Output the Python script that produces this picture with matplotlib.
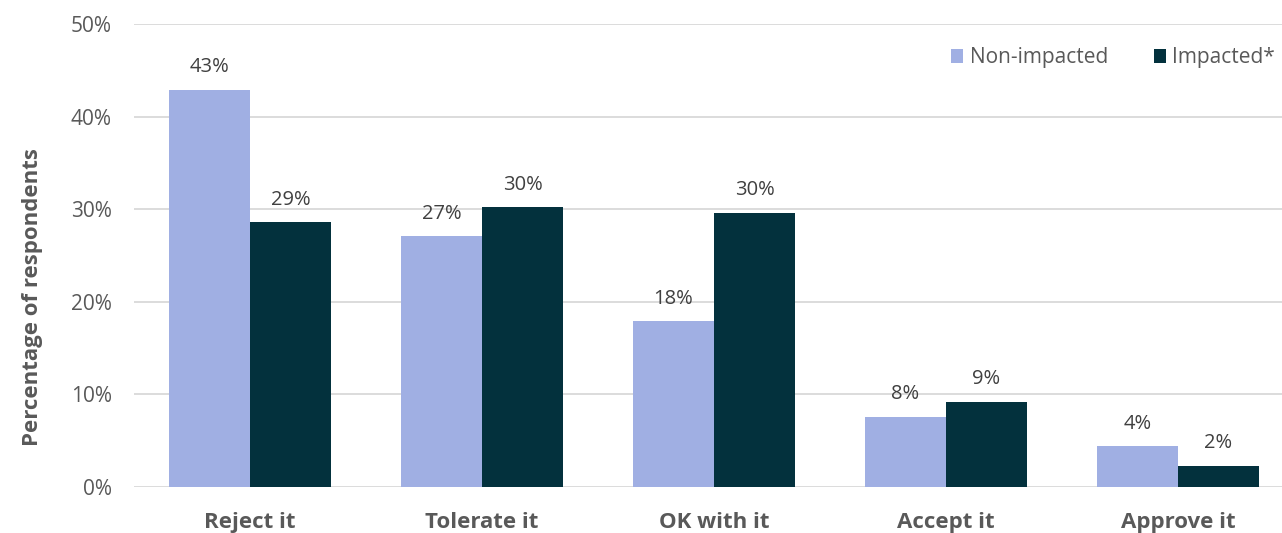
import matplotlib
matplotlib.use("Agg")
import matplotlib.pyplot as plt
import numpy as np
from matplotlib.ticker import FuncFormatter

categories = ["Reject it", "Tolerate it", "OK with it", "Accept it", "Approve it"]
non_impacted = [42.9, 27.1, 17.9, 7.6, 4.4]
impacted = [28.6, 30.2, 29.6, 9.2, 2.3]
series_names = ["Non-impacted", "Impacted*"]
y_ticks = [0, 10, 20, 30, 40, 50]

plt.rcParams["font.family"] = ["Open Sans", "DejaVu Sans"]

fig = plt.figure(figsize=(12.82, 5.33), dpi=100)
ax = fig.add_axes([0.1045, 0.0863, 0.9048, 0.8687])

x = np.arange(len(categories))
w = 0.35
light = "#A0AFE3"
dark = "#03313D"

b1 = ax.bar(x - w / 2, non_impacted, w, color=light, label=series_names[0], zorder=3)
b2 = ax.bar(x + w / 2, impacted, w, color=dark, label=series_names[1], zorder=3)

for bars, vals in ((b1, non_impacted), (b2, impacted)):
    for rect, v in zip(bars, vals):
        ax.annotate(f"{v:.0f}%", (rect.get_x() + rect.get_width() / 2, v),
                    xytext=(0, 9), textcoords="offset points",
                    ha="center", va="bottom", fontsize=14.5, color="#404040")

ax.set_xlim(-0.5, len(categories) - 0.5)
ax.set_ylim(0, 50)
ax.set_yticks(y_ticks)
ax.yaxis.set_major_formatter(FuncFormatter(lambda v, p: f"{v:.0f}%"))
ax.set_xticks(x)
ax.set_xticklabels(categories, fontsize=16, fontweight="bold", color="#595959")
ax.tick_params(axis="y", labelsize=15, labelcolor="#595959", length=0, pad=16)
ax.tick_params(axis="x", length=0, pad=18)
ax.grid(axis="y", color="#D9D9D9", linewidth=1.3, zorder=0)
for s in ax.spines.values():
    s.set_visible(False)

ax.set_ylabel("Percentage of respondents", fontsize=16, fontweight="bold",
              color="#595959", labelpad=13)
ax.yaxis.set_label_coords(-0.078, 0.41)

leg = ax.legend(loc="upper right", bbox_to_anchor=(1.0, 0.99), ncol=2, frameon=False,
                fontsize=15, handlelength=0.6, handleheight=0.6, handletextpad=0.3,
                columnspacing=2.2, labelcolor="#595959")

fig.savefig("out.png", dpi=100)
